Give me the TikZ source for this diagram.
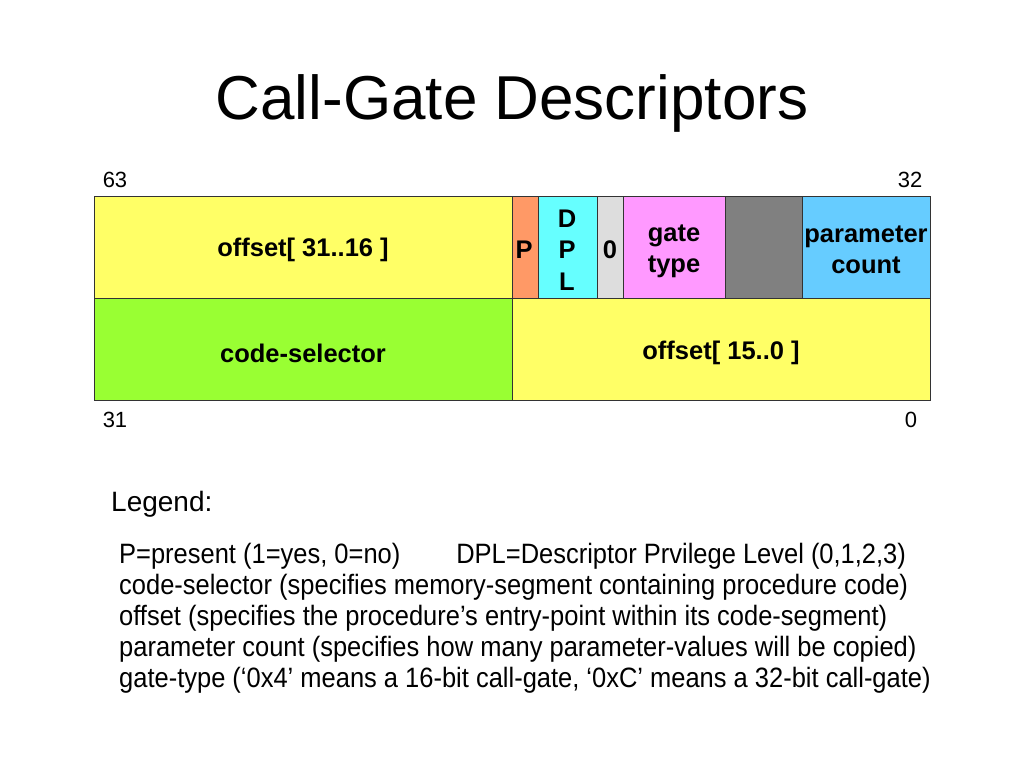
\documentclass[tikz,border=0pt]{standalone}
\usepackage{fontspec}
\setmainfont{Liberation Sans}
\newfontfamily\legendfont[FakeStretch=0.91]{Liberation Sans}
\definecolor{cyel}{HTML}{FFFF66}
\definecolor{cora}{HTML}{FF9966}
\definecolor{ccya}{HTML}{66FFFF}
\definecolor{clgr}{HTML}{DDDDDD}
\definecolor{cpnk}{HTML}{FF99FF}
\definecolor{cdgr}{HTML}{808080}
\definecolor{cblu}{HTML}{66CCFF}
\definecolor{cgrn}{HTML}{99FF33}
\definecolor{cedge}{HTML}{333333}
\begin{document}
\begin{tikzpicture}[x=1pt,y=-1pt,
  field/.style={draw=cedge,line width=1pt},
  ftext/.style={font=\fontsize{25.5}{31}\selectfont\bfseries,align=center,inner sep=0pt},
  bitnum/.style={font=\fontsize{22}{26}\selectfont,inner sep=0pt},
  legline/.style={font=\legendfont\fontsize{28}{31}\selectfont,anchor=west,inner sep=0pt}]
\useasboundingbox (0,0) rectangle (1024,768);
% fields
\filldraw[field,fill=cyel] (94,196) rectangle (512,298);
\filldraw[field,fill=cora] (512,196) rectangle (538,298);
\filldraw[field,fill=ccya] (538,196) rectangle (597,298);
\filldraw[field,fill=clgr] (597,196) rectangle (623,298);
\filldraw[field,fill=cpnk] (623,196) rectangle (725,298);
\filldraw[field,fill=cdgr] (725,196) rectangle (802,298);
\filldraw[field,fill=cblu] (802,196) rectangle (930,298);
\filldraw[field,fill=cgrn] (94,298) rectangle (512,400);
\filldraw[field,fill=cyel] (512,298) rectangle (930,400);
% title
\node[font=\fontsize{62}{70}\selectfont,inner sep=0pt] (title) at (512,103) {Call-Gate Descriptors};
% field texts
\node[ftext] (off1) at (303,250) {offset[ 31..16 ]};
\node[ftext] (p) at (524,250) {P};
\node[ftext,font=\fontsize{25.5}{31.5}\selectfont\bfseries] (dpl) at (567,250) {D\\P\\L};
\node[ftext] (zero) at (610,250) {0};
\node[ftext] (gate) at (674,251) {gate\\type};
\node[ftext] (param) at (866,250) {parameter\\count};
\node[ftext] (csel) at (303,353) {code-selector};
\node[ftext] (off0) at (721,353) {offset[ 15..0 ]};
% bit numbers
\node[bitnum] (b63) at (115,180) {63};
\node[bitnum] (b32) at (910,180) {32};
\node[bitnum] (b31) at (115,420) {31};
\node[bitnum] (b0) at (911,420) {0};
% legend
\node[font=\fontsize{28}{32}\selectfont,anchor=west,inner sep=0pt] (leg) at (111,504) {Legend:};
\node[legline] (l1) at (119,556) {P=present (1=yes, 0=no)\hspace{56pt}DPL=Descriptor Prvilege Level (0,1,2,3)};
\node[legline] (l2) at (119,587) {code-selector (specifies memory-segment containing procedure code)};
\node[legline] (l3) at (119,618) {offset (specifies the procedure’s entry-point within its code-segment)};
\node[legline] (l4) at (119,649) {parameter count (specifies how many parameter-values will be copied)};
\node[legline] (l5) at (119,680) {gate-type (‘0x4’ means a 16-bit call-gate, ‘0xC’ means a 32-bit call-gate)};
\end{tikzpicture}
\end{document}
